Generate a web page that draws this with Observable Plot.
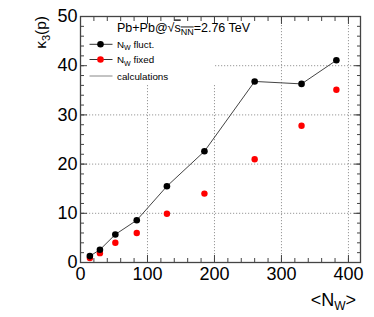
<!DOCTYPE html>
<html><head><meta charset="utf-8">
<script src="https://cdn.jsdelivr.net/npm/d3@7"></script>
<script src="https://cdn.jsdelivr.net/npm/@observablehq/plot@0.6"></script>
<style>body{margin:0;background:#fff;} svg{display:block}</style>
</head><body><div id="chart"></div>
<script>
const nw = [14, 29, 52, 84, 129, 185, 260, 330, 382];
const kappaFluct = [1.3, 2.6, 5.7, 8.6, 15.5, 22.6, 36.8, 36.3, 41.1];
const kappaFixed = [0.9, 1.9, 4.0, 6.0, 9.9, 14.0, 21.0, 27.8, 35.1];
const xMajor = [0, 100, 200, 300, 400];
const xMinor = d3.range(0, 420, 20);
const yMajor = [0, 10, 20, 30, 40, 50];
const yMinor = d3.range(0, 51, 2);
const xGrid = [100, 200, 300, 400];
const yGrid = [10, 20, 30, 40];

const fluct = nw.map((x, i) => ({x, y: kappaFluct[i]}));
const fixed = nw.map((x, i) => ({x, y: kappaFixed[i]}));

const axisColor = "#444";
const plot = Plot.plot({
  width: 374, height: 317,
  marginLeft: 80, marginRight: 14, marginTop: 16, marginBottom: 55,
  style: {fontFamily: "'Liberation Sans', Arial, sans-serif", background: "#fff"},
  x: {domain: [0, 418]},
  y: {domain: [0, 50]},
  marks: [
    Plot.ruleX(xGrid, {stroke: "#999", strokeDasharray: "1.2,1.8", strokeWidth: 1}),
    Plot.ruleY(yGrid, {stroke: "#999", strokeDasharray: "1.2,1.8", strokeWidth: 1}),
    Plot.line(fluct, {x: "x", y: "y", stroke: "#444", strokeWidth: 1}),
    Plot.dot(fixed, {x: "x", y: "y", r: 3.2, fill: "#ff0000", stroke: "none"}),
    Plot.dot(fluct, {x: "x", y: "y", r: 3.3, fill: "#000", stroke: "none"}),
    // tick labels
    Plot.axisY({ticks: yMajor, tickSize: 0, tickPadding: 3, fontSize: 18, fill: "#000", label: null, tickFormat: d3.format("d")}),
    Plot.axisX({ticks: xMajor, tickSize: 0, tickPadding: 5, fontSize: 18, fill: "#000", label: null, tickFormat: d3.format("d")}),
    // inward ticks
    Plot.axisY({ticks: yMajor, tickSize: -7, text: null, label: null, stroke: axisColor}),
    Plot.axisY({ticks: yMinor, tickSize: -4, text: null, label: null, stroke: axisColor}),
    Plot.axisY({anchor: "right", ticks: yMajor, tickSize: -7, text: null, label: null, stroke: axisColor}),
    Plot.axisY({anchor: "right", ticks: yMinor, tickSize: -4, text: null, label: null, stroke: axisColor}),
    Plot.axisX({ticks: xMajor, tickSize: -7, text: null, label: null, stroke: axisColor}),
    Plot.axisX({ticks: xMinor, tickSize: -4, text: null, label: null, stroke: axisColor}),
    Plot.axisX({anchor: "top", ticks: xMajor, tickSize: -7, text: null, label: null, stroke: axisColor}),
    Plot.axisX({anchor: "top", ticks: xMinor, tickSize: -4, text: null, label: null, stroke: axisColor}),
    Plot.frame({stroke: axisColor, strokeWidth: 1.3})
  ]
});
document.getElementById("chart").appendChild(plot);

const svg = d3.select(plot);
const font = "'Liberation Sans', Arial, sans-serif";
// legend background covering grid lines
const rules = svg.selectAll('g[aria-label="rule"]').nodes();
const lastRule = rules[rules.length - 1];
const bg = document.createElementNS("http://www.w3.org/2000/svg", "rect");
bg.setAttribute("x", 81); bg.setAttribute("y", 17);
bg.setAttribute("width", 134); bg.setAttribute("height", 68);
bg.setAttribute("fill", "#fff");
lastRule.after(bg);

// axis titles
const yl = svg.append("text").attr("transform", "translate(46,16) rotate(-90)")
  .attr("text-anchor", "end").attr("font-family", font).attr("font-size", 15.5).attr("fill", "#000");
yl.append("tspan").text("κ");
yl.append("tspan").attr("dy", 4).attr("font-size", 11).text("3");
yl.append("tspan").attr("dy", -4).text("(p)");

const xl = svg.append("text").attr("x", 356).attr("y", 306).attr("text-anchor", "end")
  .attr("font-family", font).attr("font-size", 18).attr("fill", "#000");
xl.append("tspan").text("<N");
xl.append("tspan").attr("dy", 4).attr("font-size", 12).text("W");
xl.append("tspan").attr("dy", -4).text(">");

// legend
const title = svg.append("text").attr("x", 117).attr("y", 31.5).attr("text-anchor", "start")
  .attr("font-family", font).attr("font-size", 12.5).attr("fill", "#000");
title.append("tspan").text("Pb+Pb@\u221A");
title.append("tspan").attr("text-decoration", "overline").text("s");
title.append("tspan").attr("dy", 3).attr("font-size", 9).attr("text-decoration", "overline").text("NN");
title.append("tspan").attr("dy", -3).text("=2.76 TeV");

const entries = [
  {label: "fluct.", sub: true, color: "#000", y: 44.3, dot: true},
  {label: "fixed", sub: true, color: "#ff0000", y: 59.5, dot: true},
  {label: "calculations", sub: false, color: null, y: 76, dot: false}
];
entries.forEach(e => {
  svg.append("line").attr("x1", 89.5).attr("x2", 112.5).attr("y1", e.y).attr("y2", e.y)
    .attr("stroke", e.dot ? "#333" : "#888").attr("stroke-width", 1);
  if (e.dot) svg.append("circle").attr("cx", 100.5).attr("cy", e.y).attr("r", 3.3).attr("fill", e.color);
  const t = svg.append("text").attr("x", 117).attr("y", e.y + 3.6).attr("text-anchor", "start")
    .attr("font-family", font).attr("font-size", 9.8).attr("fill", "#000");
  if (e.sub) {
    t.append("tspan").text("N");
    t.append("tspan").attr("dy", 2.5).attr("font-size", 7).text("W");
    t.append("tspan").attr("dy", -2.5).text(" " + e.label);
  } else {
    t.append("tspan").text(e.label);
  }
});
</script>
</body></html>
